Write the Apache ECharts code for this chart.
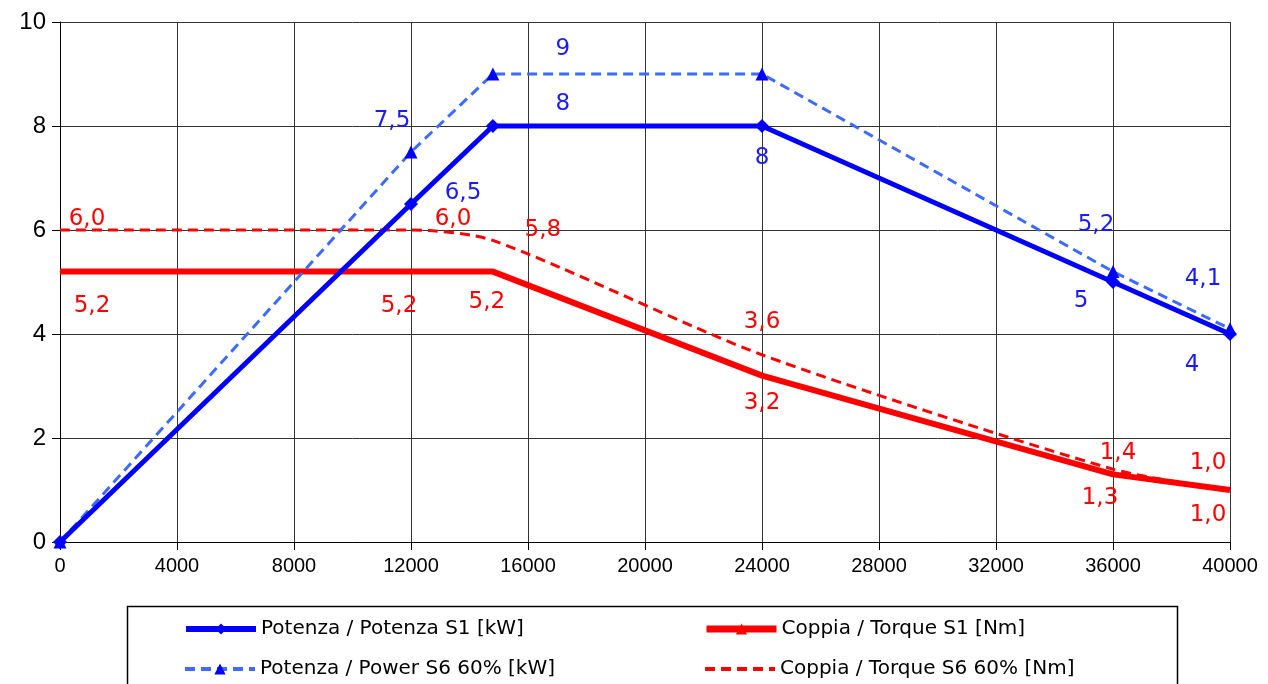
<!DOCTYPE html>
<html><head><meta charset="utf-8">
<script src="https://cdn.jsdelivr.net/npm/echarts@6/dist/echarts.min.js"></script>
<style>html,body{margin:0;padding:0;background:#fff}#c{width:1268px;height:684px}</style>
</head><body><div id="c"></div>
<script>
// Data
const speed = [0, 12000, 14800, 24000, 36000, 40000];
const powerS1 = [0, 6.5, 8, 8, 5, 4];
const powerS6 = [0, 7.5, 9, 9, 5.2, 4.1];
const torqueS1 = [5.2, 5.2, 5.2, 3.2, 1.3, 1.0];
const torqueS6 = [6.0, 6.0, 5.8, 3.6, 1.4, 1.0];
const seriesNames = [
  'Potenza / Potenza S1 [kW]',
  'Potenza / Power S6 60% [kW]',
  'Coppia / Torque S1 [Nm]',
  'Coppia / Torque S6 60% [Nm]'
];

// Label placement (pixel offsets from the point; null = no label)
const offPowerS1 = [null, [52, -11], [70, -22], [0, 32], [-32, 19], [-38, 31]];
const offPowerS6 = [null, [-19, -31], [70, -25], null, [-17, -47], [-27, -50]];
const offTorqueS1 = [[32, 34], [-12, 34], [-6, 30], [0, 27], [-13, 24], [-22, 25]];
const offTorqueS6 = [[27, -11], [42, -11], [50, -10], [0, -33], [5, -16], [-22, -27]];

const fmtPower = v => String(v).replace('.', ',');
const fmtTorque = v => v.toFixed(1).replace('.', ',');

function build(vals, offs, fmt, color) {
  return vals.map((v, i) => {
    const o = offs[i];
    return {
      value: [speed[i], v],
      label: o ? {
        show: true, position: 'inside', offset: o,
        formatter: fmt(v), color: color,
        fontFamily: 'DejaVu Sans', fontSize: 23
      } : { show: false }
    };
  });
}

const chart = echarts.init(document.getElementById('c'), null, { renderer: 'canvas' });
const legendText = { fontFamily: 'DejaVu Sans', fontSize: 20, color: '#000' };
const legendBase = { itemWidth: 70, itemHeight: 14, itemGap: 0, textStyle: legendText, selectedMode: false, padding: 0 };

chart.setOption({
  animation: false,
  backgroundColor: '#fff',
  grid: { left: 60, right: 38, top: 22, bottom: 142 },
  xAxis: {
    type: 'value', min: 0, max: 40000, interval: 4000,
    axisLine: { show: true, lineStyle: { color: '#000', width: 1 } },
    axisTick: { show: true, length: 8, lineStyle: { color: '#000' } },
    axisLabel: { fontFamily: 'Liberation Sans', fontSize: 20, color: '#000', margin: 14, formatter: v => String(v) },
    splitLine: { show: true, lineStyle: { color: '#333', width: 1 } }
  },
  yAxis: {
    type: 'value', min: 0, max: 10, interval: 2,
    axisLine: { show: true, lineStyle: { color: '#000', width: 1 } },
    axisTick: { show: true, length: 8, lineStyle: { color: '#000' } },
    axisLabel: { fontFamily: 'Liberation Sans', fontSize: 24, color: '#000', margin: 14 },
    splitLine: { show: true, lineStyle: { color: '#333', width: 1 } }
  },
  legend: [
    Object.assign({ left: 183, top: 619, data: [{ name: seriesNames[0], lineStyle: { width: 6 } }] }, legendBase),
    Object.assign({ left: 703, top: 619, data: [{ name: seriesNames[2], lineStyle: { width: 7 } }] }, legendBase),
    Object.assign({ left: 183, top: 659, data: [{ name: seriesNames[1], lineStyle: { width: 4 } }] }, legendBase),
    Object.assign({ left: 703, top: 659, data: [{ name: seriesNames[3], lineStyle: { width: 4 }, itemStyle: { opacity: 0 } }] }, legendBase)
  ],
  graphic: [{
    type: 'rect', left: 125, top: 604,
    shape: { width: 1050, height: 100 },
    style: { fill: 'none', stroke: '#000', lineWidth: 1.5 }
  }],
  series: [
    {
      name: seriesNames[2], type: 'line', z: 3,
      data: build(torqueS1, offTorqueS1, fmtTorque, '#ff0000'),
      symbol: 'triangle', symbolSize: 1, showAllSymbol: true,
      lineStyle: { color: '#ff0000', width: 6 },
      itemStyle: { color: '#ff0000' }
    },
    {
      name: seriesNames[3], type: 'line', z: 3, smooth: 0.25,
      data: build(torqueS6, offTorqueS6, fmtTorque, '#ff0000'),
      symbol: 'circle', symbolSize: 1, showAllSymbol: true,
      lineStyle: { color: '#ff0000', width: 3, type: [10, 6] },
      itemStyle: { color: '#ff0000' }
    },
    {
      name: seriesNames[1], type: 'line', z: 4,
      data: build(powerS6, offPowerS6, fmtPower, '#1a1aff'),
      symbol: 'triangle', symbolSize: 13, showAllSymbol: true,
      lineStyle: { color: '#3d6bff', width: 3, type: [10, 6] },
      itemStyle: { color: '#0000ff' }
    },
    {
      name: seriesNames[0], type: 'line', z: 5,
      data: build(powerS1, offPowerS1, fmtPower, '#1a1aff'),
      symbol: 'diamond', symbolSize: 14, showAllSymbol: true,
      lineStyle: { color: '#0000ff', width: 5 },
      itemStyle: { color: '#0000ff' }
    }
  ]
});
</script></body></html>
